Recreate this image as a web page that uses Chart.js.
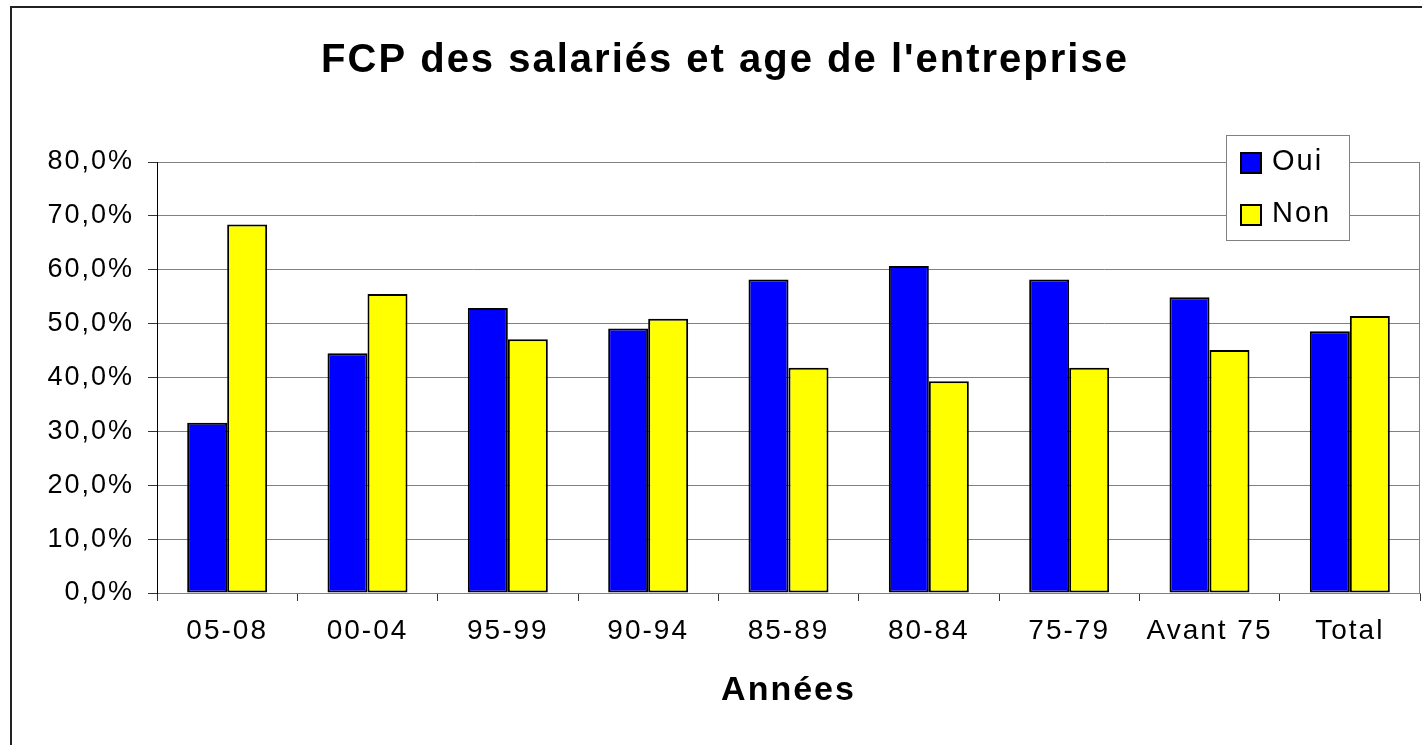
<!DOCTYPE html>
<html><head><meta charset="utf-8">
<script src="https://cdn.jsdelivr.net/npm/chart.js@4.4.0/dist/chart.umd.min.js"></script>
<style>html,body{margin:0;padding:0;background:#fff;overflow:hidden}#wrap{width:1422px;height:745px;position:relative}</style>
</head><body><div id="wrap"><canvas id="c" width="1422" height="745"></canvas></div>
<script>
const categories = ['05-08','00-04','95-99','90-94','85-89','80-84','75-79','Avant 75','Total'];
const ouiValues = [31.6, 44.5, 52.9, 49.1, 58.2, 60.7, 58.2, 54.9, 48.6];
const nonValues = [68.4, 55.5, 47.1, 50.9, 41.8, 39.3, 41.8, 45.1, 51.4];
const seriesNames = ['Oui', 'Non'];
const seriesColors = ['#0000FF', '#FFFF00'];
const yMin = 0, yMax = 80, yStep = 10;
const chartTitle = "FCP des salariés et age de l'entreprise";
const xTitle = 'Années';

const FONT = '"Liberation Sans", Arial, sans-serif';
const SPACING = '2px';

const framePlugin = {
  id: 'frame',
  beforeUpdate(chart) { chart.ctx.letterSpacing = SPACING; },
  beforeDraw(chart) {
    const ctx = chart.ctx;
    ctx.letterSpacing = SPACING;
    ctx.save();
    ctx.fillStyle = '#fff';
    ctx.fillRect(0, 0, chart.width, chart.height);
    ctx.restore();
  },
  beforeDatasetsDraw(chart) {
    const {ctx, chartArea: a} = chart;
    ctx.save();
    ctx.strokeStyle = '#808080';
    ctx.lineWidth = 1;
    ctx.beginPath();
    ctx.moveTo(Math.round(a.right) - 0.5, a.top);
    ctx.lineTo(Math.round(a.right) - 0.5, a.bottom);
    ctx.stroke();
    ctx.restore();
  },
  afterDraw(chart) {
    const {ctx, chartArea: a} = chart;
    ctx.save();
    ctx.strokeStyle = '#222';
    ctx.lineWidth = 2;
    ctx.strokeRect(11, 7, chart.width + 20, chart.height + 20);
    const bx = a.right - 194, by = a.top - 27, bw = 123, bh = 105;
    ctx.fillStyle = '#fff';
    ctx.fillRect(bx, by, bw, bh);
    ctx.strokeStyle = '#808080';
    ctx.lineWidth = 1;
    ctx.strokeRect(bx + 0.5, by + 0.5, bw, bh);
    chart.data.datasets.forEach((ds, i) => {
      const cy = by + 28 + i * 52;
      ctx.fillStyle = ds.backgroundColor;
      ctx.fillRect(bx + 15, cy - 10, 20, 20);
      ctx.strokeStyle = '#000';
      ctx.lineWidth = 2;
      ctx.strokeRect(bx + 15, cy - 10, 20, 20);
      ctx.fillStyle = '#000';
      ctx.font = '29px ' + FONT;
      ctx.letterSpacing = SPACING;
      ctx.textAlign = 'left';
      ctx.textBaseline = 'middle';
      ctx.fillText(ds.label, bx + 46, cy - 1);
    });
    ctx.restore();
  }
};

new Chart(document.getElementById('c'), {
  type: 'bar',
  data: {
    labels: categories,
    datasets: [
      { label: seriesNames[0], data: ouiValues, backgroundColor: seriesColors[0], borderColor: '#000', borderWidth: 2, borderSkipped: false },
      { label: seriesNames[1], data: nonValues, backgroundColor: seriesColors[1], borderColor: '#000', borderWidth: 2, borderSkipped: false }
    ]
  },
  options: {
    responsive: false,
    animation: false,
    devicePixelRatio: 1,
    layout: { padding: { left: 30, right: 2, top: 0, bottom: 0 } },
    datasets: { bar: { categoryPercentage: 0.57, barPercentage: 1.0 } },
    plugins: {
      legend: { display: false },
      tooltip: { enabled: false },
      title: {
        display: true,
        text: chartTitle,
        color: '#000',
        font: { family: FONT, size: 40, weight: 'bold', lineHeight: 1.2 },
        padding: { top: 37, bottom: 77 }
      }
    },
    scales: {
      x: {
        grid: { display: true, drawOnChartArea: false, drawTicks: true, tickLength: 8, tickColor: '#333', offset: true },
        border: { display: true, color: '#808080', width: 1 },
        ticks: { color: '#000', font: { family: FONT, size: 28, lineHeight: 1.2 }, padding: 13, autoSkip: false, maxRotation: 0, minRotation: 0 },
        title: { display: true, text: xTitle, color: '#000', font: { family: FONT, size: 34, weight: 'bold', lineHeight: 1.2 }, padding: { top: 0, bottom: 34 } },
        afterFit(scale) { scale.height = 152; }
      },
      y: {
        min: yMin, max: yMax,
        grid: { color: '#808080', lineWidth: 1, tickLength: 9, tickColor: '#333', drawTicks: true },
        border: { display: true, color: '#000', width: 1 },
        ticks: {
          stepSize: yStep, color: '#000', padding: 14,
          font: { family: FONT, size: 27 },
          callback: v => v.toFixed(1).replace('.', ',') + '%'
        },
        afterFit(scale) { scale.width = 127; }
      }
    }
  },
  plugins: [framePlugin]
});
</script>
</body></html>
